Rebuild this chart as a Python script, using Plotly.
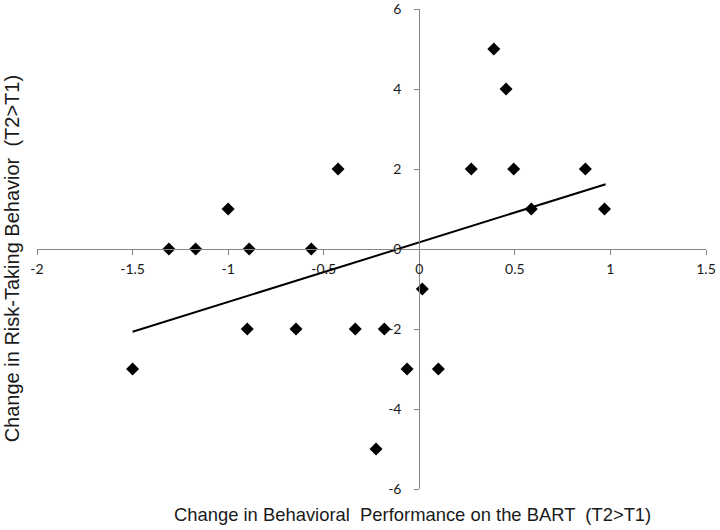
import plotly.graph_objects as go

# Data
bart_change = [-1.50, -1.31, -1.17, -1.00, -0.89, -0.90, -0.645, -0.565, -0.425, -0.335,
               -0.226, -0.183, -0.064, 0.016, 0.100, 0.272, 0.390, 0.454, 0.494, 0.586,
               0.869, 0.969]
risk_change = [-3, 0, 0, 1, 0, -2, -2, 0, 2, -2,
               -5, -2, -3, -1, -3, 2, 5, 4, 2, 1,
               2, 1]

trend_x = [-1.50, 0.975]
trend_y = [-2.07, 1.62]

x_tickvals = [-2, -1.5, -1, -0.5, 0, 0.5, 1, 1.5]
x_ticktext = ["-2", "-1.5", "-1", "-0.5", "0", "0.5", "1", "1.5"]
y_tickvals = [-6, -4, -2, 0, 2, 4, 6]
y_ticktext = ["-6", "-4", "-2", "0", "2", "4", "6"]

x_title = "Change in Behavioral  Performance on the BART  (T2>T1)"
y_title = "Change in Risk-Taking Behavior  (T2>T1)"

fig = go.Figure()
fig.add_trace(go.Scatter(
    x=bart_change, y=risk_change, mode="markers",
    marker=dict(symbol="diamond", size=10, color="black", line=dict(width=0)),
    showlegend=False, cliponaxis=False))
fig.add_trace(go.Scatter(
    x=trend_x, y=trend_y, mode="lines",
    line=dict(color="black", width=2), showlegend=False))

axis_common = dict(showgrid=False, zeroline=False, showline=True, linecolor="#868686",
                   linewidth=1, ticks="outside", ticklen=5, tickcolor="#868686",
                   tickfont=dict(family="Lato, Carlito, sans-serif", size=14, color="#1a1a1a"),
                   fixedrange=True, automargin=False, ticklabeloverflow="allow")

fig.update_layout(
    width=720, height=530,
    margin=dict(l=37, r=14, t=9, b=41),
    paper_bgcolor="white", plot_bgcolor="white",
    xaxis=dict(range=[-2, 1.5], tickmode="array", tickvals=x_tickvals, ticktext=x_ticktext,
               anchor="free", position=0.5, ticklabelstandoff=2, **axis_common),
    yaxis=dict(range=[-6, 6], tickmode="array", tickvals=y_tickvals, ticktext=y_ticktext,
               anchor="free", position=2 / 3.5, ticklabelstandoff=10, **axis_common),
    annotations=[
        dict(text=x_title, xref="paper", yref="paper", x=0.561, y=-0.054,
             xanchor="center", yanchor="middle", showarrow=False,
             font=dict(family="Liberation Sans, Arial, sans-serif", size=18.4, color="#1a1a1a")),
        dict(text=y_title, xref="paper", yref="paper", x=-0.037, y=0.479,
             xanchor="center", yanchor="middle", showarrow=False, textangle=-90,
             font=dict(family="Liberation Sans, Arial, sans-serif", size=20, color="#1a1a1a")),
    ],
)

fig.write_html("out.html", config={"displayModeBar": False},
               post_script="document.body.style.margin='0';")
